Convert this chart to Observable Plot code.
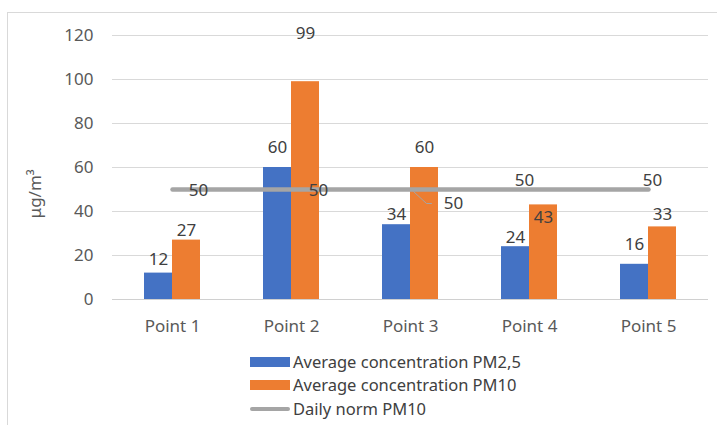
<!DOCTYPE html>
<html><head><meta charset="utf-8">
<script src="https://cdn.jsdelivr.net/npm/d3@7"></script>
<script src="https://cdn.jsdelivr.net/npm/@observablehq/plot@0.6"></script>
<style>
body{margin:0;width:717px;height:425px;overflow:hidden;background:#fff;font-family:"Noto Sans",sans-serif;position:relative}
#frame{position:absolute;left:7px;top:12px;width:720px;height:420px;border:1px solid #d9d9d9;}
#chart{position:absolute;left:0;top:0}
#legend{position:absolute;left:250px;top:350px;font-size:16.5px;color:#404040;line-height:1}
.row{display:flex;align-items:center;height:23.5px;white-space:nowrap}
.sw{width:40px;margin-right:3px}
</style></head><body>
<div id="frame"></div><div id="chart"></div><div id="legend"></div>
<script>
const categories = ["Point 1","Point 2","Point 3","Point 4","Point 5"];
const pm25 = [12,60,34,24,16];
const pm10 = [27,99,60,43,33];
const normPM10 = [50,50,50,50,50];
const yTicks = [0,20,40,60,80,100,120];
const seriesNames = ["Average concentration PM2,5","Average concentration PM10","Daily norm PM10"];
const yLabel = "μg/m³";

const colors = ["#4472C4","#ED7D31","#A5A5A5"];
const rows = categories.map((c,i)=>({cat:c, pm25:pm25[i], pm10:pm10[i], norm:normPM10[i]}));

// label nudges in pixels (Excel's hand placement)
const nudge25 = [-14,-20,-10,-9,-20];
const nudge10 = [-10,-48,-20,13,-12];
const nudgeNorm = [[26,1],[27,1],[43,14],[-5,-9],[4,-9]];

const labelMarks = [];
rows.forEach((r,i)=>{
  labelMarks.push(Plot.text([r],{x:"cat",y:"pm25",text:d=>String(d.pm25),dx:-14,dy:nudge25[i],fill:"#404040"}));
  labelMarks.push(Plot.text([r],{x:"cat",y:"pm10",text:d=>String(d.pm10),dx:14,dy:nudge10[i],fill:"#404040"}));
  labelMarks.push(Plot.text([r],{x:"cat",y:"norm",text:d=>String(d.norm),dx:nudgeNorm[i][0],dy:nudgeNorm[i][1],fill:"#404040"}));
});

// leader line for the displaced "50" label at Point 3
const leader = {draw(ctx){ ctx.moveTo(3,2); ctx.lineTo(16,14); ctx.lineTo(21,14); }};

const chart = Plot.plot({
  width:717, height:340,
  marginLeft:112, marginRight:9, marginTop:35, marginBottom:41,
  style:{fontSize:"17px", fontFamily:"'Noto Sans', sans-serif", color:"#595959", background:"transparent"},
  x:{type:"band", domain:categories, paddingInner:0.765, paddingOuter:0.3825, label:null},
  y:{domain:[0,120], label:null},
  marks:[
    Plot.gridY(yTicks,{stroke:"#d9d9d9", strokeOpacity:1}),
    Plot.ruleY([0],{stroke:"#d0d0d0"}),
    Plot.axisY(yTicks,{tickSize:0, tickPadding:19, label:null}),
    Plot.axisX({tickSize:0, tickPadding:20, label:null}),
    Plot.barY(rows,{x:"cat", y:"pm25", fill:colors[0], dx:-14}),
    Plot.barY(rows,{x:"cat", y:"pm10", fill:colors[1], dx:14}),
    Plot.lineY(rows,{x:"cat", y:"norm", stroke:colors[2], strokeWidth:4.5}),
    Plot.vector([rows[2]],{x:"cat", y:"norm", length:1, anchor:"start", shape:leader, stroke:colors[2], strokeWidth:1, fill:"none"}),
    ...labelMarks,
    Plot.text([yLabel],{frameAnchor:"bottom-left", dx:-72, dy:-81, rotate:-90, fill:"#595959", text:d=>d})
  ]
});
document.getElementById("chart").appendChild(chart);

const legend = document.getElementById("legend");
seriesNames.forEach((name,i)=>{
  const row = document.createElement("div"); row.className="row";
  const sw = document.createElement("div"); sw.className="sw";
  sw.style.height = i<2 ? "10px" : "4px";
  sw.style.background = colors[i];
  if(i===2) sw.style.borderRadius="2px";
  const t = document.createElement("span"); t.textContent=name;
  row.appendChild(sw); row.appendChild(t); legend.appendChild(row);
});
</script>
</body></html>
